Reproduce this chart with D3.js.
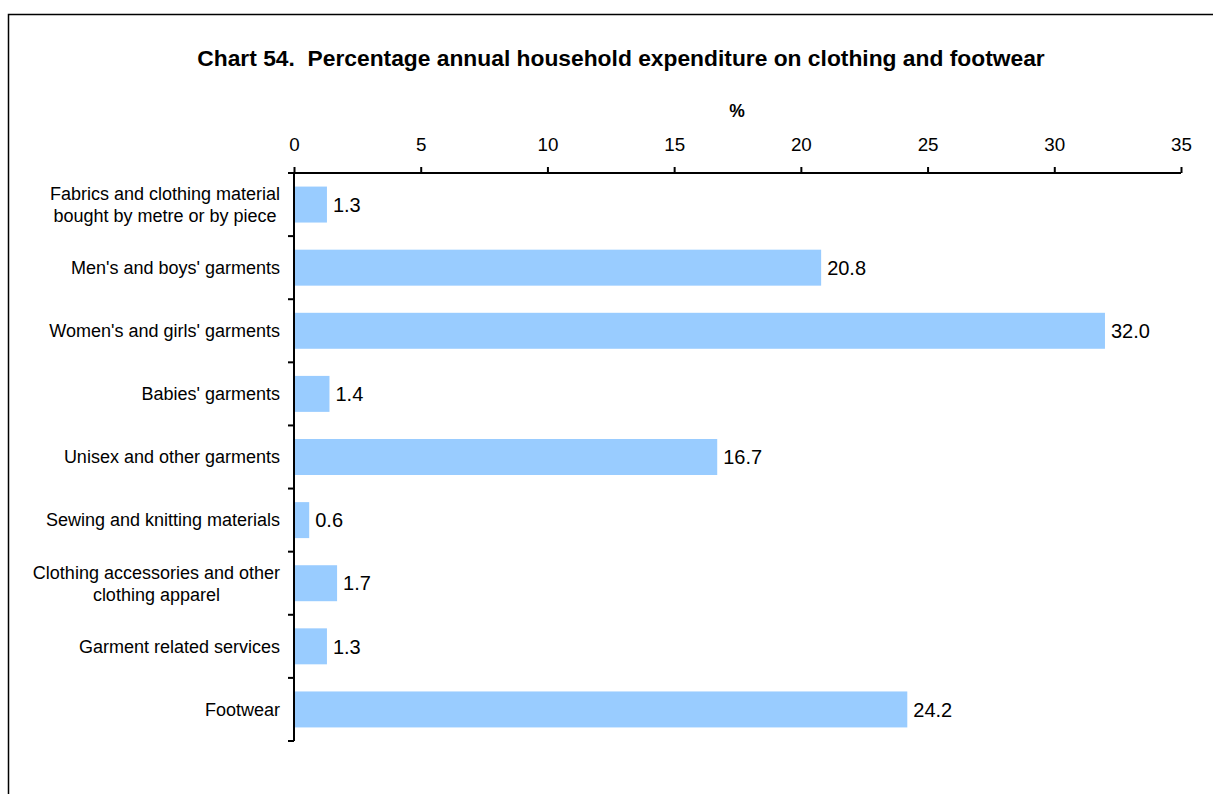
<!DOCTYPE html>
<html><head><meta charset="utf-8">
<script src="https://cdn.jsdelivr.net/npm/d3@7"></script>
<style>body{margin:0;background:#fff;} svg{display:block;font-family:"Liberation Sans",Arial,sans-serif;}</style>
</head><body>
<script>
const categories = [
  ["Fabrics and clothing material","bought by metre or by piece"],
  ["Men's and boys' garments"],
  ["Women's and girls' garments"],
  ["Babies' garments"],
  ["Unisex and other garments"],
  ["Sewing and knitting materials"],
  ["Clothing accessories and other","clothing apparel"],
  ["Garment related services"],
  ["Footwear"]
];
const values = [1.3, 20.8, 32.0, 1.4, 16.7, 0.6, 1.7, 1.3, 24.2];
const xTicks = [0,5,10,15,20,25,30,35];
const title = "Chart 54.  Percentage annual household expenditure on clothing and footwear";
const axisTitle = "%";

(function(){
const W = 1213, H = 794;
const svg = d3.select("body").append("svg").attr("width", W).attr("height", H);
svg.append("rect").attr("x",8.5).attr("y",14.5).attr("width",1400).attr("height",1000)
  .attr("fill","none").attr("stroke","#000").attr("stroke-width",1.5);

const pL = 294, pR = 1181, pT = 173, pB = 741;
const x = d3.scaleLinear().domain([0,35]).range([pL,pR]);
const keys = categories.map((c,i)=>i);
const y = d3.scaleBand().domain(keys).range([pT,pB]).paddingInner(0.43).paddingOuter(0.215);
const yb = d3.scaleBand().domain(keys).range([pT,pB]);

svg.append("text").attr("x",621).attr("y",66).attr("text-anchor","middle")
  .style("white-space","pre")
  .attr("font-weight","bold").attr("font-size",22.8).text(title);
svg.append("text").attr("x",737).attr("y",117).attr("text-anchor","middle")
  .attr("font-weight","bold").attr("font-size",17.5).text(axisTitle);

svg.selectAll("rect.bar").data(values).enter().append("rect").attr("class","bar")
  .attr("x", x(0)).attr("y",(d,i)=>y(i)).attr("width",d=>x(d)-x(0)).attr("height",y.bandwidth())
  .attr("fill","#99CCFF");

const xa = svg.append("g").attr("transform",`translate(0,${pT})`)
  .call(d3.axisTop(x).tickValues(xTicks).tickSize(6).tickPadding(16).tickFormat(d3.format("d")));
xa.select(".domain").attr("stroke","#000").attr("stroke-width",2).attr("d",`M${pL},0H${pR}`);
xa.selectAll(".tick line").attr("stroke","#000").attr("stroke-width",2);
xa.selectAll(".tick text").attr("font-size",18.8).attr("fill","#000").attr("font-family","Liberation Sans, Arial, sans-serif");

const bounds = keys.map(k=>yb(k)).concat([pB]);
svg.append("line").attr("x1",pL).attr("x2",pL).attr("y1",pT).attr("y2",pB)
  .attr("stroke","#000").attr("stroke-width",2);
svg.selectAll("line.yt").data(bounds).enter().append("line").attr("class","yt")
  .attr("x1",pL-6).attr("x2",pL).attr("y1",d=>d).attr("y2",d=>d)
  .attr("stroke","#000").attr("stroke-width",2);

const fs = 18, lh = 22;
categories.forEach((lines,i)=>{
  const cy = yb(i) + yb.bandwidth()/2;
  const g = svg.append("g");
  const texts = lines.map((l,j)=> g.append("text").attr("font-size",fs).attr("fill","#000")
     .attr("y", cy + (j - (lines.length-1)/2)*lh).attr("dy","0.35em").text(l));
  const maxW = d3.max(texts, t=>t.node().getComputedTextLength());
  const cx = 280 - maxW/2;
  texts.forEach(t=>t.attr("x",cx).attr("text-anchor","middle"));
});

svg.selectAll("text.val").data(values).enter().append("text").attr("class","val")
  .attr("x",d=>x(d)+6).attr("y",(d,i)=>y(i)+y.bandwidth()/2).attr("dy","0.36em")
  .attr("font-size",20).attr("fill","#000").text(d=>d.toFixed(1));
})();
</script>
</body></html>
